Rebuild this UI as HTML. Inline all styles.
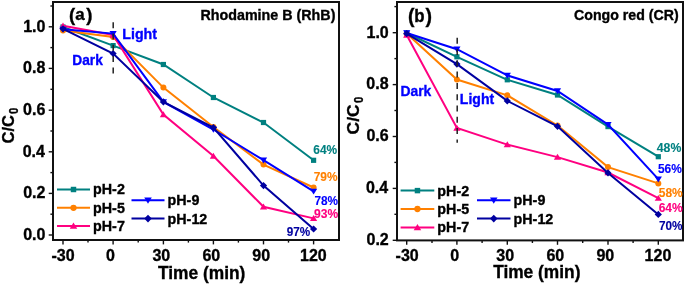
<!DOCTYPE html>
<html><head><meta charset="utf-8"><style>
html,body{margin:0;padding:0;background:#fff;overflow:hidden;}
svg{display:block;}
text{-webkit-font-smoothing:antialiased;}
</style></head><body>
<svg width="685" height="285" viewBox="0 0 685 285" style="will-change:transform">
<rect width="685" height="285" fill="#fff"/>
<line x1="48.7" y1="26.8" x2="53" y2="26.8" stroke="#111" stroke-width="1.4"/>
<line x1="48.7" y1="68.4" x2="53" y2="68.4" stroke="#111" stroke-width="1.4"/>
<line x1="48.7" y1="110.2" x2="53" y2="110.2" stroke="#111" stroke-width="1.4"/>
<line x1="48.7" y1="151.8" x2="53" y2="151.8" stroke="#111" stroke-width="1.4"/>
<line x1="48.7" y1="193.4" x2="53" y2="193.4" stroke="#111" stroke-width="1.4"/>
<line x1="48.7" y1="235" x2="53" y2="235" stroke="#111" stroke-width="1.4"/>
<line x1="50.4" y1="6" x2="53" y2="6" stroke="#111" stroke-width="1.4"/>
<line x1="50.4" y1="47.6" x2="53" y2="47.6" stroke="#111" stroke-width="1.4"/>
<line x1="50.4" y1="89.3" x2="53" y2="89.3" stroke="#111" stroke-width="1.4"/>
<line x1="50.4" y1="131" x2="53" y2="131" stroke="#111" stroke-width="1.4"/>
<line x1="50.4" y1="172.6" x2="53" y2="172.6" stroke="#111" stroke-width="1.4"/>
<line x1="50.4" y1="214.2" x2="53" y2="214.2" stroke="#111" stroke-width="1.4"/>
<line x1="63" y1="240" x2="63" y2="244.4" stroke="#111" stroke-width="1.4"/>
<line x1="113.1" y1="240" x2="113.1" y2="244.4" stroke="#111" stroke-width="1.4"/>
<line x1="163.4" y1="240" x2="163.4" y2="244.4" stroke="#111" stroke-width="1.4"/>
<line x1="213.4" y1="240" x2="213.4" y2="244.4" stroke="#111" stroke-width="1.4"/>
<line x1="263.5" y1="240" x2="263.5" y2="244.4" stroke="#111" stroke-width="1.4"/>
<line x1="313.6" y1="240" x2="313.6" y2="244.4" stroke="#111" stroke-width="1.4"/>
<line x1="88" y1="240" x2="88" y2="242.6" stroke="#111" stroke-width="1.4"/>
<line x1="138.2" y1="240" x2="138.2" y2="242.6" stroke="#111" stroke-width="1.4"/>
<line x1="188.4" y1="240" x2="188.4" y2="242.6" stroke="#111" stroke-width="1.4"/>
<line x1="238.4" y1="240" x2="238.4" y2="242.6" stroke="#111" stroke-width="1.4"/>
<line x1="288.5" y1="240" x2="288.5" y2="242.6" stroke="#111" stroke-width="1.4"/>
<rect x="53" y="2" width="286" height="238" fill="none" stroke="#111" stroke-width="2"/>
<polyline points="63.00,27.00 113.10,45.60 163.40,64.50 213.40,97.50 263.50,122.50 313.60,160.30" fill="none" stroke="#008080" stroke-width="2" stroke-linejoin="miter"/><rect x="60.40" y="24.40" width="5.20" height="5.20" fill="#008080"/><rect x="110.50" y="43.00" width="5.20" height="5.20" fill="#008080"/><rect x="160.80" y="61.90" width="5.20" height="5.20" fill="#008080"/><rect x="210.80" y="94.90" width="5.20" height="5.20" fill="#008080"/><rect x="260.90" y="119.90" width="5.20" height="5.20" fill="#008080"/><rect x="311.00" y="157.70" width="5.20" height="5.20" fill="#008080"/>
<polyline points="63.00,30.50 113.10,37.00 163.40,87.60 213.40,127.00 263.50,164.60 313.60,187.50" fill="none" stroke="#FF8000" stroke-width="2" stroke-linejoin="miter"/><circle cx="63.00" cy="30.50" r="3.00" fill="#FF8000"/><circle cx="113.10" cy="37.00" r="3.00" fill="#FF8000"/><circle cx="163.40" cy="87.60" r="3.00" fill="#FF8000"/><circle cx="213.40" cy="127.00" r="3.00" fill="#FF8000"/><circle cx="263.50" cy="164.60" r="3.00" fill="#FF8000"/><circle cx="313.60" cy="187.50" r="3.00" fill="#FF8000"/>
<polyline points="63.00,25.80 113.10,35.00 163.40,114.60 213.40,156.10 263.50,206.80 313.60,218.40" fill="none" stroke="#FF0080" stroke-width="2" stroke-linejoin="miter"/><polygon points="63.00,22.50 66.60,28.44 59.40,28.44" fill="#FF0080"/><polygon points="113.10,31.70 116.70,37.64 109.50,37.64" fill="#FF0080"/><polygon points="163.40,111.30 167.00,117.24 159.80,117.24" fill="#FF0080"/><polygon points="213.40,152.80 217.00,158.74 209.80,158.74" fill="#FF0080"/><polygon points="263.50,203.50 267.10,209.44 259.90,209.44" fill="#FF0080"/><polygon points="313.60,215.10 317.20,221.04 310.00,221.04" fill="#FF0080"/>
<polyline points="63.00,29.30 113.10,33.60 163.40,101.90 213.40,129.50 263.50,160.20 313.60,191.30" fill="none" stroke="#0000FF" stroke-width="2" stroke-linejoin="miter"/><polygon points="63.00,32.60 66.60,26.66 59.40,26.66" fill="#0000FF"/><polygon points="113.10,36.90 116.70,30.96 109.50,30.96" fill="#0000FF"/><polygon points="163.40,105.20 167.00,99.26 159.80,99.26" fill="#0000FF"/><polygon points="213.40,132.80 217.00,126.86 209.80,126.86" fill="#0000FF"/><polygon points="263.50,163.50 267.10,157.56 259.90,157.56" fill="#0000FF"/><polygon points="313.60,194.60 317.20,188.66 310.00,188.66" fill="#0000FF"/>
<polyline points="63.00,28.80 113.10,53.50 163.40,101.90 213.40,127.50 263.50,185.60 313.60,229.00" fill="none" stroke="#0000A0" stroke-width="2" stroke-linejoin="miter"/><polygon points="63.00,25.20 66.60,28.80 63.00,32.40 59.40,28.80" fill="#0000A0"/><polygon points="113.10,49.90 116.70,53.50 113.10,57.10 109.50,53.50" fill="#0000A0"/><polygon points="163.40,98.30 167.00,101.90 163.40,105.50 159.80,101.90" fill="#0000A0"/><polygon points="213.40,123.90 217.00,127.50 213.40,131.10 209.80,127.50" fill="#0000A0"/><polygon points="263.50,182.00 267.10,185.60 263.50,189.20 259.90,185.60" fill="#0000A0"/><polygon points="313.60,225.40 317.20,229.00 313.60,232.60 310.00,229.00" fill="#0000A0"/>
<line x1="113.2" y1="22.2" x2="113.2" y2="73.5" stroke="#222" stroke-width="1.5" stroke-dasharray="6,5.3"/>
<text x="68.97" y="20.70" font-size="18.6" fill="#000" stroke="#000" stroke-width="0.35" font-family="Liberation Sans, sans-serif" font-weight="bold">(</text>
<text transform="translate(75.29,20.10) scale(1.056,1)" font-size="16" fill="#000" stroke="#000" stroke-width="0.331" font-family="Liberation Sans, sans-serif" font-weight="bold">a</text>
<text x="86.15" y="20.70" font-size="18.6" fill="#000" stroke="#000" stroke-width="0.35" font-family="Liberation Sans, sans-serif" font-weight="bold">)</text>
<text transform="translate(200.43,20.00) scale(1.022,1)" font-size="14" fill="#000" stroke="#000" stroke-width="0.343" font-family="Liberation Sans, sans-serif" font-weight="bold">Rhodamine B (RhB)</text>
<text transform="translate(122.24,38.80) scale(1.016,1)" font-size="14" fill="#0000FF" stroke="#0000FF" stroke-width="0.345" font-family="Liberation Sans, sans-serif" font-weight="bold">Light</text>
<text transform="translate(72.27,64.70) scale(0.980,1)" font-size="14" fill="#0000FF" stroke="#0000FF" stroke-width="0.357" font-family="Liberation Sans, sans-serif" font-weight="bold">Dark</text>
<text x="23.20" y="31.70" font-size="16" fill="#000" stroke="#000" stroke-width="0.35" font-family="Liberation Sans, sans-serif" font-weight="bold">1.0</text>
<text x="23.04" y="73.30" font-size="16" fill="#000" stroke="#000" stroke-width="0.35" font-family="Liberation Sans, sans-serif" font-weight="bold">0.8</text>
<text x="23.12" y="115.10" font-size="16" fill="#000" stroke="#000" stroke-width="0.35" font-family="Liberation Sans, sans-serif" font-weight="bold">0.6</text>
<text x="22.64" y="156.70" font-size="16" fill="#000" stroke="#000" stroke-width="0.35" font-family="Liberation Sans, sans-serif" font-weight="bold">0.4</text>
<text x="23.20" y="198.30" font-size="16" fill="#000" stroke="#000" stroke-width="0.35" font-family="Liberation Sans, sans-serif" font-weight="bold">0.2</text>
<text x="23.20" y="239.90" font-size="16" fill="#000" stroke="#000" stroke-width="0.35" font-family="Liberation Sans, sans-serif" font-weight="bold">0.0</text>
<text x="51.46" y="260.80" font-size="16" fill="#000" stroke="#000" stroke-width="0.35" font-family="Liberation Sans, sans-serif" font-weight="bold">-30</text>
<text x="105.96" y="260.80" font-size="16" fill="#000" stroke="#000" stroke-width="0.35" font-family="Liberation Sans, sans-serif" font-weight="bold">0</text>
<text x="152.44" y="260.80" font-size="16" fill="#000" stroke="#000" stroke-width="0.35" font-family="Liberation Sans, sans-serif" font-weight="bold">30</text>
<text x="202.40" y="260.80" font-size="16" fill="#000" stroke="#000" stroke-width="0.35" font-family="Liberation Sans, sans-serif" font-weight="bold">60</text>
<text x="252.24" y="260.80" font-size="16" fill="#000" stroke="#000" stroke-width="0.35" font-family="Liberation Sans, sans-serif" font-weight="bold">90</text>
<text x="300.00" y="260.80" font-size="16" fill="#000" stroke="#000" stroke-width="0.35" font-family="Liberation Sans, sans-serif" font-weight="bold">120</text>
<text transform="translate(157.93,278.90) scale(0.993,1)" font-size="17.5" fill="#000" stroke="#000" stroke-width="0.352" font-family="Liberation Sans, sans-serif" font-weight="bold">Time (min)</text>
<text transform="translate(313.25,154.20) scale(0.994,1)" font-size="12" fill="#008080" stroke="#008080" stroke-width="0.121" font-family="Liberation Sans, sans-serif" font-weight="bold">64%</text>
<text transform="translate(313.69,181.30) scale(0.992,1)" font-size="12" fill="#FF8000" stroke="#FF8000" stroke-width="0.121" font-family="Liberation Sans, sans-serif" font-weight="bold">79%</text>
<text transform="translate(314.50,204.50) scale(0.983,1)" font-size="12" fill="#0000FF" stroke="#0000FF" stroke-width="0.122" font-family="Liberation Sans, sans-serif" font-weight="bold">78%</text>
<text transform="translate(313.98,217.60) scale(1.005,1)" font-size="12" fill="#FF0080" stroke="#FF0080" stroke-width="0.119" font-family="Liberation Sans, sans-serif" font-weight="bold">93%</text>
<text transform="translate(286.69,235.60) scale(0.979,1)" font-size="12" fill="#0000A0" stroke="#0000A0" stroke-width="0.123" font-family="Liberation Sans, sans-serif" font-weight="bold">97%</text>
<text transform="translate(14.00,143.46) rotate(-90) scale(0.996,1)" font-size="16.5" fill="#000" stroke="#000" stroke-width="0.35" font-family="Liberation Sans, sans-serif" font-weight="bold">C/C</text><text transform="translate(17.90,114.05) rotate(-90) scale(0.895,1)" font-size="12.7" fill="#000" stroke="#000" stroke-width="0.35" font-family="Liberation Sans, sans-serif" font-weight="bold">0</text>
<line x1="57" y1="189.5" x2="90" y2="189.5" stroke="#008080" stroke-width="2"/>
<rect x="70.77" y="186.77" width="5.46" height="5.46" fill="#008080"/>
<text x="93.07" y="194.40" font-size="14.3" fill="#000" stroke="#000" stroke-width="0.35" font-family="Liberation Sans, sans-serif" font-weight="bold">pH-2</text>
<line x1="57" y1="207.8" x2="90" y2="207.8" stroke="#FF8000" stroke-width="2"/>
<circle cx="73.50" cy="207.80" r="3.15" fill="#FF8000"/>
<text x="93.07" y="212.70" font-size="14.3" fill="#000" stroke="#000" stroke-width="0.35" font-family="Liberation Sans, sans-serif" font-weight="bold">pH-5</text>
<line x1="57" y1="225.9" x2="90" y2="225.9" stroke="#FF0080" stroke-width="2"/>
<polygon points="73.50,222.44 77.28,228.67 69.72,228.67" fill="#FF0080"/>
<text x="93.07" y="230.80" font-size="14.3" fill="#000" stroke="#000" stroke-width="0.35" font-family="Liberation Sans, sans-serif" font-weight="bold">pH-7</text>
<line x1="131.5" y1="200.3" x2="164.5" y2="200.3" stroke="#0000FF" stroke-width="2"/>
<polygon points="148.00,203.77 151.78,197.53 144.22,197.53" fill="#0000FF"/>
<text x="167.57" y="205.20" font-size="14.3" fill="#000" stroke="#000" stroke-width="0.35" font-family="Liberation Sans, sans-serif" font-weight="bold">pH-9</text>
<line x1="131.5" y1="218.6" x2="164.5" y2="218.6" stroke="#0000A0" stroke-width="2"/>
<polygon points="148.00,214.82 151.78,218.60 148.00,222.38 144.22,218.60" fill="#0000A0"/>
<text x="167.57" y="223.50" font-size="14.3" fill="#000" stroke="#000" stroke-width="0.35" font-family="Liberation Sans, sans-serif" font-weight="bold">pH-12</text>
<line x1="392.7" y1="32.7" x2="397" y2="32.7" stroke="#111" stroke-width="1.4"/>
<line x1="392.7" y1="84.6" x2="397" y2="84.6" stroke="#111" stroke-width="1.4"/>
<line x1="392.7" y1="136.5" x2="397" y2="136.5" stroke="#111" stroke-width="1.4"/>
<line x1="392.7" y1="188.4" x2="397" y2="188.4" stroke="#111" stroke-width="1.4"/>
<line x1="392.7" y1="240.3" x2="397" y2="240.3" stroke="#111" stroke-width="1.4"/>
<line x1="394.4" y1="6.6" x2="397" y2="6.6" stroke="#111" stroke-width="1.4"/>
<line x1="394.4" y1="58.6" x2="397" y2="58.6" stroke="#111" stroke-width="1.4"/>
<line x1="394.4" y1="110.5" x2="397" y2="110.5" stroke="#111" stroke-width="1.4"/>
<line x1="394.4" y1="162.4" x2="397" y2="162.4" stroke="#111" stroke-width="1.4"/>
<line x1="394.4" y1="214.3" x2="397" y2="214.3" stroke="#111" stroke-width="1.4"/>
<line x1="406.7" y1="240.4" x2="406.7" y2="244.8" stroke="#111" stroke-width="1.4"/>
<line x1="456.9" y1="240.4" x2="456.9" y2="244.8" stroke="#111" stroke-width="1.4"/>
<line x1="507.3" y1="240.4" x2="507.3" y2="244.8" stroke="#111" stroke-width="1.4"/>
<line x1="557.5" y1="240.4" x2="557.5" y2="244.8" stroke="#111" stroke-width="1.4"/>
<line x1="608" y1="240.4" x2="608" y2="244.8" stroke="#111" stroke-width="1.4"/>
<line x1="658.3" y1="240.4" x2="658.3" y2="244.8" stroke="#111" stroke-width="1.4"/>
<line x1="432" y1="240.4" x2="432" y2="243.0" stroke="#111" stroke-width="1.4"/>
<line x1="482.1" y1="240.4" x2="482.1" y2="243.0" stroke="#111" stroke-width="1.4"/>
<line x1="532.4" y1="240.4" x2="532.4" y2="243.0" stroke="#111" stroke-width="1.4"/>
<line x1="582.7" y1="240.4" x2="582.7" y2="243.0" stroke="#111" stroke-width="1.4"/>
<line x1="633.1" y1="240.4" x2="633.1" y2="243.0" stroke="#111" stroke-width="1.4"/>
<rect x="397" y="2" width="286" height="238.4" fill="none" stroke="#111" stroke-width="2"/>
<polyline points="406.70,33.00 456.90,56.80 507.30,79.80 557.50,95.00 608.00,126.60 658.30,156.70" fill="none" stroke="#008080" stroke-width="2" stroke-linejoin="miter"/><rect x="404.10" y="30.40" width="5.20" height="5.20" fill="#008080"/><rect x="454.30" y="54.20" width="5.20" height="5.20" fill="#008080"/><rect x="504.70" y="77.20" width="5.20" height="5.20" fill="#008080"/><rect x="554.90" y="92.40" width="5.20" height="5.20" fill="#008080"/><rect x="605.40" y="124.00" width="5.20" height="5.20" fill="#008080"/><rect x="655.70" y="154.10" width="5.20" height="5.20" fill="#008080"/>
<polyline points="406.70,33.50 456.90,79.50 507.30,95.30 557.50,125.50 608.00,167.10 658.30,183.40" fill="none" stroke="#FF8000" stroke-width="2" stroke-linejoin="miter"/><circle cx="406.70" cy="33.50" r="3.00" fill="#FF8000"/><circle cx="456.90" cy="79.50" r="3.00" fill="#FF8000"/><circle cx="507.30" cy="95.30" r="3.00" fill="#FF8000"/><circle cx="557.50" cy="125.50" r="3.00" fill="#FF8000"/><circle cx="608.00" cy="167.10" r="3.00" fill="#FF8000"/><circle cx="658.30" cy="183.40" r="3.00" fill="#FF8000"/>
<polyline points="406.70,35.00 456.90,128.00 507.30,144.60 557.50,157.10 608.00,172.50 658.30,198.20" fill="none" stroke="#FF0080" stroke-width="2" stroke-linejoin="miter"/><polygon points="406.70,31.70 410.30,37.64 403.10,37.64" fill="#FF0080"/><polygon points="456.90,124.70 460.50,130.64 453.30,130.64" fill="#FF0080"/><polygon points="507.30,141.30 510.90,147.24 503.70,147.24" fill="#FF0080"/><polygon points="557.50,153.80 561.10,159.74 553.90,159.74" fill="#FF0080"/><polygon points="608.00,169.20 611.60,175.14 604.40,175.14" fill="#FF0080"/><polygon points="658.30,194.90 661.90,200.84 654.70,200.84" fill="#FF0080"/>
<polyline points="406.70,33.00 456.90,49.20 507.30,75.40 557.50,91.00 608.00,124.60 658.30,179.10" fill="none" stroke="#0000FF" stroke-width="2" stroke-linejoin="miter"/><polygon points="406.70,36.30 410.30,30.36 403.10,30.36" fill="#0000FF"/><polygon points="456.90,52.50 460.50,46.56 453.30,46.56" fill="#0000FF"/><polygon points="507.30,78.70 510.90,72.76 503.70,72.76" fill="#0000FF"/><polygon points="557.50,94.30 561.10,88.36 553.90,88.36" fill="#0000FF"/><polygon points="608.00,127.90 611.60,121.96 604.40,121.96" fill="#0000FF"/><polygon points="658.30,182.40 661.90,176.46 654.70,176.46" fill="#0000FF"/>
<polyline points="406.70,33.70 456.90,64.10 507.30,100.90 557.50,126.30 608.00,172.90 658.30,214.40" fill="none" stroke="#0000A0" stroke-width="2" stroke-linejoin="miter"/><polygon points="406.70,30.10 410.30,33.70 406.70,37.30 403.10,33.70" fill="#0000A0"/><polygon points="456.90,60.50 460.50,64.10 456.90,67.70 453.30,64.10" fill="#0000A0"/><polygon points="507.30,97.30 510.90,100.90 507.30,104.50 503.70,100.90" fill="#0000A0"/><polygon points="557.50,122.70 561.10,126.30 557.50,129.90 553.90,126.30" fill="#0000A0"/><polygon points="608.00,169.30 611.60,172.90 608.00,176.50 604.40,172.90" fill="#0000A0"/><polygon points="658.30,210.80 661.90,214.40 658.30,218.00 654.70,214.40" fill="#0000A0"/>
<line x1="457.2" y1="37.7" x2="457.2" y2="142.8" stroke="#222" stroke-width="1.5" stroke-dasharray="6,5.3"/>
<text x="407.92" y="22.50" font-size="19.5" fill="#000" stroke="#000" stroke-width="0.35" font-family="Liberation Sans, sans-serif" font-weight="bold">(</text>
<text transform="translate(414.21,22.10) scale(0.962,1)" font-size="17.5" fill="#000" stroke="#000" stroke-width="0.364" font-family="Liberation Sans, sans-serif" font-weight="bold">b</text>
<text x="425.59" y="22.50" font-size="19.5" fill="#000" stroke="#000" stroke-width="0.35" font-family="Liberation Sans, sans-serif" font-weight="bold">)</text>
<text transform="translate(574.03,20.00) scale(1.012,1)" font-size="14" fill="#000" stroke="#000" stroke-width="0.346" font-family="Liberation Sans, sans-serif" font-weight="bold">Congo red (CR)</text>
<text transform="translate(459.85,104.40) scale(1.004,1)" font-size="14" fill="#0000FF" stroke="#0000FF" stroke-width="0.349" font-family="Liberation Sans, sans-serif" font-weight="bold">Light</text>
<text transform="translate(400.46,95.60) scale(0.990,1)" font-size="14" fill="#0000FF" stroke="#0000FF" stroke-width="0.354" font-family="Liberation Sans, sans-serif" font-weight="bold">Dark</text>
<text x="366.50" y="37.50" font-size="16" fill="#000" stroke="#000" stroke-width="0.35" font-family="Liberation Sans, sans-serif" font-weight="bold">1.0</text>
<text x="366.34" y="89.40" font-size="16" fill="#000" stroke="#000" stroke-width="0.35" font-family="Liberation Sans, sans-serif" font-weight="bold">0.8</text>
<text x="366.42" y="141.30" font-size="16" fill="#000" stroke="#000" stroke-width="0.35" font-family="Liberation Sans, sans-serif" font-weight="bold">0.6</text>
<text x="365.94" y="193.20" font-size="16" fill="#000" stroke="#000" stroke-width="0.35" font-family="Liberation Sans, sans-serif" font-weight="bold">0.4</text>
<text x="366.50" y="245.10" font-size="16" fill="#000" stroke="#000" stroke-width="0.35" font-family="Liberation Sans, sans-serif" font-weight="bold">0.2</text>
<text x="395.56" y="261.20" font-size="16" fill="#000" stroke="#000" stroke-width="0.35" font-family="Liberation Sans, sans-serif" font-weight="bold">-30</text>
<text x="450.36" y="261.20" font-size="16" fill="#000" stroke="#000" stroke-width="0.35" font-family="Liberation Sans, sans-serif" font-weight="bold">0</text>
<text x="496.34" y="261.20" font-size="16" fill="#000" stroke="#000" stroke-width="0.35" font-family="Liberation Sans, sans-serif" font-weight="bold">30</text>
<text x="546.40" y="261.20" font-size="16" fill="#000" stroke="#000" stroke-width="0.35" font-family="Liberation Sans, sans-serif" font-weight="bold">60</text>
<text x="596.44" y="261.20" font-size="16" fill="#000" stroke="#000" stroke-width="0.35" font-family="Liberation Sans, sans-serif" font-weight="bold">90</text>
<text x="644.60" y="261.20" font-size="16" fill="#000" stroke="#000" stroke-width="0.35" font-family="Liberation Sans, sans-serif" font-weight="bold">120</text>
<text transform="translate(493.13,278.20) scale(0.991,1)" font-size="17.5" fill="#000" stroke="#000" stroke-width="0.353" font-family="Liberation Sans, sans-serif" font-weight="bold">Time (min)</text>
<text transform="translate(656.82,152.30) scale(1.020,1)" font-size="12" fill="#008080" stroke="#008080" stroke-width="0.118" font-family="Liberation Sans, sans-serif" font-weight="bold">48%</text>
<text transform="translate(657.94,173.00) scale(0.998,1)" font-size="12" fill="#0000FF" stroke="#0000FF" stroke-width="0.120" font-family="Liberation Sans, sans-serif" font-weight="bold">56%</text>
<text transform="translate(658.74,196.70) scale(0.998,1)" font-size="12" fill="#FF8000" stroke="#FF8000" stroke-width="0.120" font-family="Liberation Sans, sans-serif" font-weight="bold">58%</text>
<text transform="translate(658.65,211.50) scale(1.002,1)" font-size="12" fill="#FF0080" stroke="#FF0080" stroke-width="0.120" font-family="Liberation Sans, sans-serif" font-weight="bold">64%</text>
<text transform="translate(659.00,229.80) scale(0.983,1)" font-size="12" fill="#0000A0" stroke="#0000A0" stroke-width="0.122" font-family="Liberation Sans, sans-serif" font-weight="bold">70%</text>
<text transform="translate(359.00,134.40) rotate(-90) scale(1.024,1)" font-size="17" fill="#000" stroke="#000" stroke-width="0.35" font-family="Liberation Sans, sans-serif" font-weight="bold">C/C</text><text transform="translate(362.80,103.05) rotate(-90) scale(0.895,1)" font-size="12.7" fill="#000" stroke="#000" stroke-width="0.35" font-family="Liberation Sans, sans-serif" font-weight="bold">0</text>
<line x1="400.6" y1="190.6" x2="434.3" y2="190.6" stroke="#008080" stroke-width="2"/>
<rect x="414.72" y="187.87" width="5.46" height="5.46" fill="#008080"/>
<text x="437.37" y="195.50" font-size="14.3" fill="#000" stroke="#000" stroke-width="0.35" font-family="Liberation Sans, sans-serif" font-weight="bold">pH-2</text>
<line x1="400.6" y1="209" x2="434.3" y2="209" stroke="#FF8000" stroke-width="2"/>
<circle cx="417.45" cy="209.00" r="3.15" fill="#FF8000"/>
<text x="437.37" y="213.90" font-size="14.3" fill="#000" stroke="#000" stroke-width="0.35" font-family="Liberation Sans, sans-serif" font-weight="bold">pH-5</text>
<line x1="400.6" y1="227.5" x2="434.3" y2="227.5" stroke="#FF0080" stroke-width="2"/>
<polygon points="417.45,224.03 421.23,230.27 413.67,230.27" fill="#FF0080"/>
<text x="437.37" y="232.40" font-size="14.3" fill="#000" stroke="#000" stroke-width="0.35" font-family="Liberation Sans, sans-serif" font-weight="bold">pH-7</text>
<line x1="477" y1="200.3" x2="510.5" y2="200.3" stroke="#0000FF" stroke-width="2"/>
<polygon points="493.75,203.77 497.53,197.53 489.97,197.53" fill="#0000FF"/>
<text x="513.57" y="205.20" font-size="14.3" fill="#000" stroke="#000" stroke-width="0.35" font-family="Liberation Sans, sans-serif" font-weight="bold">pH-9</text>
<line x1="477" y1="218.6" x2="510.5" y2="218.6" stroke="#0000A0" stroke-width="2"/>
<polygon points="493.75,214.82 497.53,218.60 493.75,222.38 489.97,218.60" fill="#0000A0"/>
<text x="513.57" y="223.50" font-size="14.3" fill="#000" stroke="#000" stroke-width="0.35" font-family="Liberation Sans, sans-serif" font-weight="bold">pH-12</text>
</svg>
</body></html>
